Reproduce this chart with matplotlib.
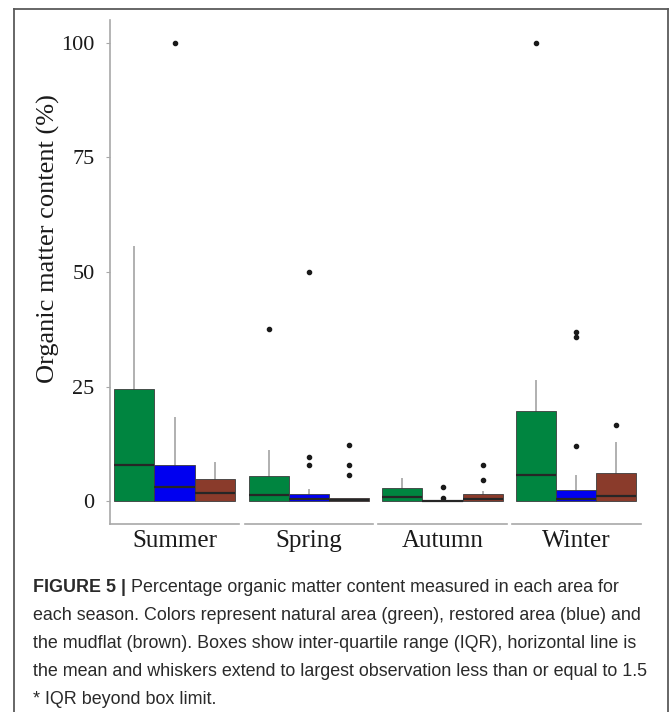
import matplotlib
matplotlib.use("Agg")
import matplotlib.pyplot as plt
from matplotlib.lines import Line2D

# ---------------- data ----------------
seasons = ["Summer", "Spring", "Autumn", "Winter"]
areas = ["Natural", "Restored", "Mudflat"]
area_colors = ["#008540", "#0000f0", "#8a3b2b"]

# per season: [natural, restored, mudflat]
q1 = {
    "Summer": [0.0, 0.0, 0.0],
    "Spring": [0.0, 0.0, 0.0],
    "Autumn": [0.0, 0.0, 0.0],
    "Winter": [0.0, 0.0, 0.0],
}
med = {
    "Summer": [7.9, 3.1, 1.7],
    "Spring": [1.3, 0.4, 0.3],
    "Autumn": [0.95, 0.1, 0.35],
    "Winter": [5.8, 0.4, 1.2],
}
q3 = {
    "Summer": [24.5, 7.9, 4.8],
    "Spring": [5.5, 1.45, 0.6],
    "Autumn": [2.9, 0.2, 1.6],
    "Winter": [19.7, 2.5, 6.2],
}
whishi = {
    "Summer": [55.4, 18.1, 8.4],
    "Spring": [10.9, 2.5, 0.6],
    "Autumn": [4.8, 0.2, 2.0],
    "Winter": [26.3, 5.5, 12.6],
}
fliers = {
    "Summer": [[], [100.0], []],
    "Spring": [[37.6], [7.8, 9.7, 50.0], [5.6, 7.8, 12.2]],
    "Autumn": [[], [0.7, 3.05], [4.7, 7.8]],
    "Winter": [[100.0], [12.0, 35.8, 36.8], [16.6]],
}
y_ticks = [0, 25, 50, 75, 100]
y_label = "Organic matter content (%)"

caption_bold = "FIGURE 5 |"
caption_lines = [
    " Percentage organic matter content measured in each area for",
    "each season. Colors represent natural area (green), restored area (blue) and",
    "the mudflat (brown). Boxes show inter-quartile range (IQR), horizontal line is",
    "the mean and whiskers extend to largest observation less than or equal to 1.5",
    "* IQR beyond box limit.",
]

# ---------------- layout ----------------
W, H = 669, 712
fig = plt.figure(figsize=(W / 100, H / 100), dpi=100)
fig.patch.set_facecolor("white")

serif = ["Liberation Serif", "DejaVu Serif"]
axis_grey = "#a8a8a8"

panel_left = [110, 244.5, 378, 511.5]
panel_w = 129
ax_top_px, ax_bot_px = 20, 524
ax_h = ax_bot_px - ax_top_px

def fx(px):
    return px / W

def fy(py):
    return 1 - py / H

axes = []
for i, s in enumerate(seasons):
    ax = fig.add_axes([fx(panel_left[i]), fy(ax_bot_px), panel_w / W, ax_h / H])
    stats = []
    for j in range(3):
        stats.append(dict(med=med[s][j], q1=q1[s][j], q3=q3[s][j],
                          whislo=q1[s][j], whishi=whishi[s][j],
                          fliers=fliers[s][j]))
    bp = ax.bxp(stats, positions=[1, 2, 3], widths=1.0, patch_artist=True,
                showcaps=False,
                boxprops=dict(edgecolor="#3c3c3c", linewidth=0.6),
                whiskerprops=dict(color="#b0b0b0", linewidth=1.4),
                medianprops=dict(color="#262626", linewidth=1.6),
                flierprops=dict(marker="o", markersize=3.0,
                                markerfacecolor="#1a1a1a",
                                markeredgecolor="#1a1a1a"))
    for patch, c in zip(bp["boxes"], area_colors):
        patch.set_facecolor(c)
        patch.set_zorder(2)
    for w in bp["whiskers"]:
        w.set_zorder(1)
    ax.set_xlim(0.4, 3.6)
    ax.set_ylim(-5, 105)
    ax.set_facecolor("none")
    for sp in ["top", "right"]:
        ax.spines[sp].set_visible(False)
    ax.spines["bottom"].set_color(axis_grey)
    ax.spines["bottom"].set_linewidth(1.2)
    ax.set_xticks([])
    if i == 0:
        ax.spines["left"].set_color(axis_grey)
        ax.spines["left"].set_linewidth(1.2)
        ax.set_yticks(y_ticks)
        ax.set_yticklabels([str(t) for t in y_ticks], family=serif,
                           fontsize=16, color="#1a1a1a")
        ax.tick_params(axis="y", length=3, width=0.8, color=axis_grey, pad=8)
        ax.set_ylabel(y_label, family=serif, fontsize=19, color="#1a1a1a",
                      va="center")
    else:
        ax.spines["left"].set_visible(False)
        ax.set_yticks([])
    ax.text(2.0, -(547 - ax_bot_px) / ax_h, s, transform=ax.get_xaxis_transform(),
            ha="center", va="baseline", family=serif, fontsize=18,
            color="#1a1a1a")
    axes.append(ax)

axes[0].yaxis.set_label_coords((48 - 110) / panel_w, (ax_bot_px - 239) / ax_h)

# ---------------- frame ----------------
frame_c = "#5a5a5a"
fig.add_artist(Line2D([fx(14), fx(14)], [fy(9), 0], color=frame_c, lw=1.3))
fig.add_artist(Line2D([fx(667.5), fx(667.5)], [fy(9), 0], color=frame_c, lw=1.3))
fig.add_artist(Line2D([fx(14), fx(667.5)], [fy(9), fy(9)], color=frame_c, lw=1.3))

# ---------------- caption ----------------
cap_font = ["Liberation Sans", "DejaVu Sans"]
cap_size = 12.9
cap_col = "#2a2a2a"
x0 = fx(33)
line_y = [588, 616, 644, 672, 699]
renderer = fig.canvas.get_renderer()
tb = fig.text(x0, fy(line_y[0]), caption_bold, family=cap_font, fontsize=cap_size,
              fontweight="bold", color=cap_col, va="center", ha="left")
bb = tb.get_window_extent(renderer=renderer)
fig.text(bb.x1 / W, fy(line_y[0]), caption_lines[0], family=cap_font,
         fontsize=cap_size, color=cap_col, va="center", ha="left")
for k in range(1, 5):
    fig.text(x0, fy(line_y[k]), caption_lines[k], family=cap_font,
             fontsize=cap_size, color=cap_col, va="center", ha="left")

fig.savefig("out.png", dpi=100, facecolor="white")
